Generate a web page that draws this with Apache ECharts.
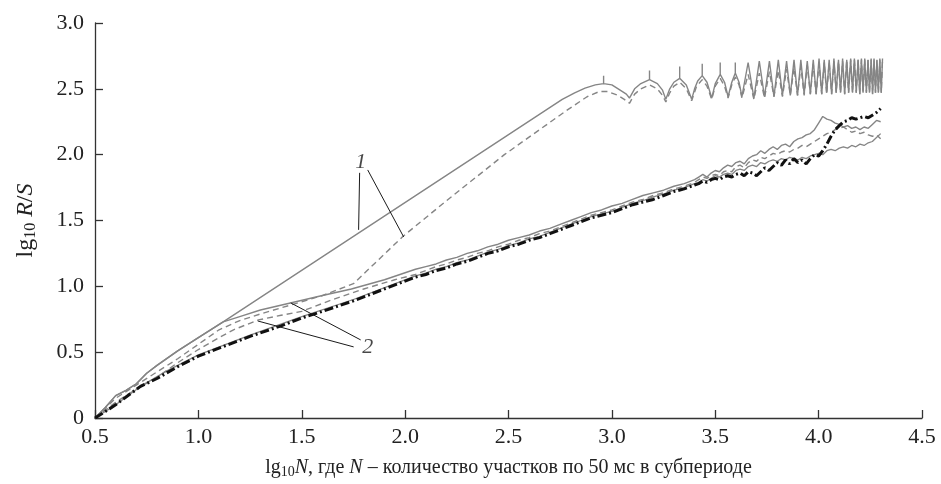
<!DOCTYPE html>
<html><head><meta charset="utf-8">
<script src="https://cdn.jsdelivr.net/npm/echarts@6/dist/echarts.min.js"></script>
<style>html,body{margin:0;padding:0;background:#fff}#c{width:941px;height:484px}</style>
</head><body><div id="c"></div>
<script>
// ---------- DATA ----------
const xTicks = [0.5, 1.0, 1.5, 2.0, 2.5, 3.0, 3.5, 4.0, 4.5];
const yTicks = [0, 0.5, 1.0, 1.5, 2.0, 2.5, 3.0];

// curve 1 (solid): smooth rise, straight segment, first arches
const solid1Head = [[0.5,0],[0.55,0.08],[0.6,0.17],[0.65,0.21],[0.7,0.26],[0.75,0.34],[0.8,0.4],[0.9,0.51],[1.0,0.61],[1.12,0.73],[2.76,2.42],[2.82,2.47],[2.87,2.505],[2.92,2.53],[2.96,2.54]];
const solid1Arches = [[2.96,2.60],[2.96,2.54],[3.00,2.53],[3.04,2.49],[3.07,2.46],[3.085,2.43],
  [3.11,2.50],[3.14,2.54],[3.182,2.57],[3.182,2.64],[3.182,2.57],[3.22,2.54],[3.245,2.49],[3.261,2.42],
  [3.28,2.50],[3.30,2.55],[3.328,2.58],[3.328,2.67],[3.328,2.58],[3.36,2.53],[3.386,2.42],
  [3.40,2.50],[3.415,2.56],[3.437,2.60],[3.437,2.69],[3.437,2.60],[3.46,2.55],[3.483,2.43],
  [3.50,2.54],[3.524,2.61],[3.524,2.70],[3.524,2.61],[3.545,2.55],[3.562,2.44],
  [3.58,2.55],[3.597,2.62],[3.597,2.70],[3.597,2.62],[3.615,2.55],[3.629,2.44]];
// dense oscillation (curves 1)
const densePeakX = [3.659,3.713,3.762,3.805,3.845,3.881,3.914,3.945,3.974,4.002,4.027,4.051,4.074,4.096,4.116,4.136,4.155,4.173,4.191,4.207,4.223,4.239,4.254,4.268,4.282,4.296,4.309];
const denseDipX  = [3.687,3.738,3.784,3.825,3.863,3.898,3.930,3.960,3.988,4.015,4.039,4.063,4.085,4.106,4.126,4.145,4.164,4.182,4.199,4.215,4.231,4.246,4.261,4.275,4.289,4.303];
const solid1PeakY = [2.70,2.71,2.71,2.72,2.71,2.72,2.72,2.71,2.72,2.73,2.72,2.72,2.73,2.72,2.73,2.72,2.73,2.73,2.72,2.73,2.73,2.72,2.73,2.73,2.72,2.73,2.73];
const solid1DipY  = [2.43,2.44,2.44,2.45,2.45,2.45,2.46,2.46,2.46,2.46,2.47,2.46,2.47,2.47,2.46,2.47,2.47,2.47,2.46,2.47,2.47,2.47,2.46,2.47,2.47,2.47];

// curve 1 (dashed)
const dashed1Head = [[0.5,0],[0.6,0.15],[0.7,0.25],[0.8,0.35],[0.9,0.45],[1.0,0.56],[1.1,0.67],[1.2,0.74],[1.3,0.79],[1.45,0.86],[1.6,0.93],[1.75,1.02],
  [1.85,1.17],[1.99,1.38],[2.2,1.65],[2.48,2.0],[2.785,2.34],[2.88,2.44],[2.94,2.48]];
const dashed1Arches = [[2.98,2.48],[3.03,2.45],[3.06,2.42],[3.085,2.39],
  [3.11,2.46],[3.14,2.50],[3.182,2.53],[3.22,2.50],[3.245,2.45],[3.261,2.40],
  [3.28,2.47],[3.30,2.52],[3.328,2.55],[3.36,2.50],[3.386,2.41],
  [3.41,2.52],[3.437,2.57],[3.46,2.52],[3.483,2.42],
  [3.50,2.52],[3.524,2.58],[3.545,2.52],[3.562,2.43],
  [3.58,2.53],[3.597,2.59],[3.615,2.53],[3.629,2.43]];
const dashed1PeakY = [2.61,2.62,2.63,2.64,2.65,2.66,2.67,2.68,2.69,2.69,2.70,2.70,2.71,2.71,2.71,2.72,2.72,2.72,2.72,2.72,2.72,2.72,2.72,2.72,2.72,2.72,2.72];
const dashed1DipY  = [2.42,2.43,2.44,2.44,2.45,2.45,2.45,2.46,2.46,2.46,2.46,2.46,2.47,2.47,2.46,2.47,2.47,2.47,2.46,2.47,2.47,2.47,2.46,2.47,2.47,2.47];

// curves 2 and measured data
const bundleX = [2.10,2.15,2.20,2.25,2.30,2.35,2.40,2.45,2.50,2.55,2.60,2.65,2.70,2.75,2.80,2.85,2.90,2.95,3.00,3.05,3.10,3.15,3.20,3.25,3.30,3.35,3.40,
  3.42,3.44,3.46,3.48,3.50,3.52,3.54,3.56,3.58,3.60,3.62,3.64,3.66,3.68,3.70,3.72,3.74,3.76,3.78,3.80,3.82,3.84,3.86,3.88,3.90,3.92,3.94,3.96,3.98,4.00,4.02,4.04,4.06,4.08,4.10,4.12,4.14,4.16,4.18,4.20,4.22,4.24,4.26,4.28,4.30];

const solid2Head = [[0.5,0],[0.55,0.08],[0.6,0.17],[0.65,0.21],[0.7,0.26],[0.75,0.34],[0.8,0.4],[0.9,0.51],[1.0,0.61],[1.12,0.73],[1.2,0.77],[1.3,0.82],[1.45,0.875],[1.6,0.93],[1.74,0.98],[1.9,1.05],[2.05,1.13]];
const solid2Tail = [1.15,1.17,1.20,1.22,1.25,1.27,1.30,1.32,1.35,1.37,1.39,1.42,1.44,1.47,1.50,1.53,1.56,1.58,1.61,1.63,1.66,1.69,1.71,1.73,1.76,1.78,1.81,
  1.83,1.85,1.83,1.86,1.88,1.87,1.90,1.92,1.91,1.94,1.95,1.93,1.97,1.99,2.00,2.03,2.01,2.04,2.06,2.04,2.07,2.08,2.06,2.10,2.12,2.13,2.15,2.16,2.19,2.24,2.29,2.27,2.26,2.24,2.23,2.21,2.22,2.20,2.21,2.19,2.21,2.20,2.23,2.26,2.25];

const dashed2Head = [[0.5,0],[0.6,0.12],[0.7,0.22],[0.8,0.31],[0.9,0.42],[1.0,0.52],[1.1,0.61],[1.17,0.67],[1.29,0.745],[1.4,0.78],[1.5,0.81],[1.65,0.9],[1.8,0.98],[1.95,1.05],[2.05,1.09]];
const dashed2Tail = [1.12,1.15,1.17,1.20,1.22,1.25,1.27,1.30,1.32,1.35,1.37,1.40,1.42,1.45,1.48,1.51,1.54,1.56,1.58,1.61,1.64,1.66,1.69,1.71,1.74,1.76,1.79,
  1.81,1.83,1.82,1.84,1.85,1.84,1.87,1.88,1.87,1.91,1.92,1.90,1.94,1.96,1.95,1.98,1.97,1.99,2.01,2.00,2.02,2.03,2.02,2.04,2.05,2.07,2.06,2.08,2.10,2.12,2.14,2.16,2.17,2.19,2.20,2.21,2.19,2.17,2.18,2.16,2.17,2.15,2.14,2.15,2.12];

const gray3Head = [[0.5,0],[0.6,0.1],[0.72,0.24],[0.85,0.36],[1.0,0.48],[1.25,0.63],[1.5,0.77],[1.75,0.9],[2.05,1.08]];
const gray3Tail = [1.10,1.13,1.15,1.18,1.20,1.23,1.26,1.28,1.31,1.33,1.36,1.38,1.41,1.44,1.47,1.50,1.53,1.55,1.57,1.60,1.63,1.65,1.68,1.70,1.73,1.75,1.78,
  1.79,1.81,1.80,1.82,1.84,1.83,1.85,1.86,1.85,1.88,1.89,1.88,1.91,1.92,1.91,1.94,1.93,1.95,1.96,1.95,1.97,1.96,1.98,1.97,1.96,1.98,1.97,1.99,2.00,2.01,2.00,2.03,2.04,2.03,2.05,2.06,2.05,2.07,2.06,2.08,2.07,2.09,2.10,2.13,2.16];

const blackHead = [[0.5,0],[0.55,0.05],[0.6,0.1],[0.65,0.16],[0.72,0.24],[0.8,0.3],[0.9,0.39],[1.0,0.47],[1.1,0.53],[1.25,0.62],[1.4,0.70],[1.5,0.76],[1.6,0.81],[1.75,0.89],[1.9,0.98],[2.05,1.07]];
const blackTail = [1.09,1.12,1.14,1.17,1.19,1.22,1.25,1.27,1.30,1.32,1.35,1.37,1.40,1.43,1.46,1.49,1.52,1.54,1.56,1.59,1.62,1.64,1.66,1.69,1.72,1.74,1.77,
  1.78,1.80,1.79,1.81,1.82,1.81,1.83,1.84,1.83,1.85,1.86,1.84,1.87,1.86,1.84,1.87,1.90,1.88,1.91,1.94,1.92,1.96,1.93,1.97,1.94,1.96,1.93,1.97,2.00,1.99,2.03,2.08,2.14,2.19,2.22,2.25,2.26,2.28,2.27,2.28,2.29,2.28,2.30,2.32,2.35];

// annotations (data coordinates)
const label1Pos = [1.785, 1.945];
const label2Pos = [1.819, 0.54];
const leader1a = [[1.780,1.862],[1.775,1.429]];
const leader1b = [[1.819,1.884],[1.993,1.375]];
const leader2a = [[1.785,0.593],[1.447,0.874]];
const leader2b = [[1.751,0.540],[1.287,0.737]];

// ---------- BUILD ----------
function pairs(xs, ys){ return xs.map((x,i)=>[x, ys[i]]); }
function osc(px, py, dx, dy){
  const out=[];
  for(let i=0;i<px.length;i++){ out.push([px[i],py[i]]); if(i<dx.length) out.push([dx[i],dy[i]]); }
  return out;
}
const solid1 = solid1Head.concat(solid1Arches, osc(densePeakX, solid1PeakY, denseDipX, solid1DipY));
const dashed1 = dashed1Head.concat(dashed1Arches, osc(densePeakX, dashed1PeakY, denseDipX, dashed1DipY));
const solid2 = solid2Head.concat(pairs(bundleX, solid2Tail));
const dashed2 = dashed2Head.concat(pairs(bundleX, dashed2Tail));
const gray3 = gray3Head.concat(pairs(bundleX, gray3Tail));
const black = blackHead.concat(pairs(bundleX, blackTail));

const FONT = 'Liberation Serif';
const GRAY = '#858585';
function lineS(data, style, z){
  return {type:'line', data, showSymbol:false, symbol:'none', animation:false, z:z||2, lineStyle:style, silent:true};
}
function leader(d){ return lineS(d, {color:'#1a1a1a', width:1}, 5); }
function lbl(pos, text){
  return {type:'scatter', data:[pos], symbolSize:1, itemStyle:{color:'rgba(0,0,0,0)'}, z:6, silent:true, animation:false,
    label:{show:true, position:'inside', formatter:text, fontFamily:FONT, fontStyle:'italic', fontSize:22, color:'#1a1a1a'}};
}

const chart = echarts.init(document.getElementById('c'), null, {renderer:'canvas'});
const richX = {
  a:{fontFamily:FONT, fontSize:20, color:'#222'},
  i:{fontFamily:FONT, fontSize:20, fontStyle:'italic', color:'#222'},
  s:{fontFamily:FONT, fontSize:14, color:'#222', padding:[9,0,0,0]}
};
const richY = {
  a:{fontFamily:FONT, fontSize:24, color:'#222'},
  i:{fontFamily:FONT, fontSize:24, fontStyle:'italic', color:'#222'},
  s:{fontFamily:FONT, fontSize:16, color:'#222', padding:[10,0,0,0]}
};
chart.setOption({
  backgroundColor:'#fff',
  animation:false,
  grid:{left:95, right:19, top:23, bottom:66},
  xAxis:{type:'value', min:xTicks[0], max:xTicks[xTicks.length-1], interval:0.5,
    splitLine:{show:false},
    axisLine:{lineStyle:{color:'#333', width:1.3}},
    axisTick:{inside:true, length:8, lineStyle:{color:'#333', width:1.3}},
    axisLabel:{formatter:v=>v.toFixed(1), fontFamily:FONT, fontSize:22, color:'#222', margin:8},
    name:'{a|lg}{s|10}{i|N}{a|, где }{i|N}{a| – количество участков по 50 мс в субпериоде}',
    nameLocation:'middle', nameGap:38, nameTextStyle:{rich:richX}
  },
  yAxis:{type:'value', min:yTicks[0], max:yTicks[yTicks.length-1], interval:0.5,
    splitLine:{show:false},
    axisLine:{show:true, lineStyle:{color:'#333', width:1.3}},
    axisTick:{show:true, inside:true, length:8, lineStyle:{color:'#333', width:1.3}},
    axisLabel:{formatter:v=>v===0?'0':v.toFixed(1), fontFamily:FONT, fontSize:22, color:'#222', margin:11},
    name:'{a|lg}{s|10}{a| }{i|R}{a|/}{i|S}',
    nameLocation:'middle', nameGap:56, nameRotate:90, nameTextStyle:{rich:richY}
  },
  series:[
    lineS(gray3, {color:GRAY, width:1.3}, 2),
    lineS(dashed2, {color:GRAY, width:1.4, type:[6,4]}, 2),
    lineS(solid2, {color:GRAY, width:1.4}, 2),
    lineS(dashed1, {color:GRAY, width:1.4, type:[6,4]}, 2),
    lineS(solid1, {color:GRAY, width:1.4}, 3),
    lineS(black, {color:'#111', width:3, type:[9,3,2,3]}, 4),
    leader(leader1a), leader(leader1b), leader(leader2a), leader(leader2b),
    lbl(label1Pos,'1'), lbl(label2Pos,'2')
  ]
});
</script>
</body></html>
